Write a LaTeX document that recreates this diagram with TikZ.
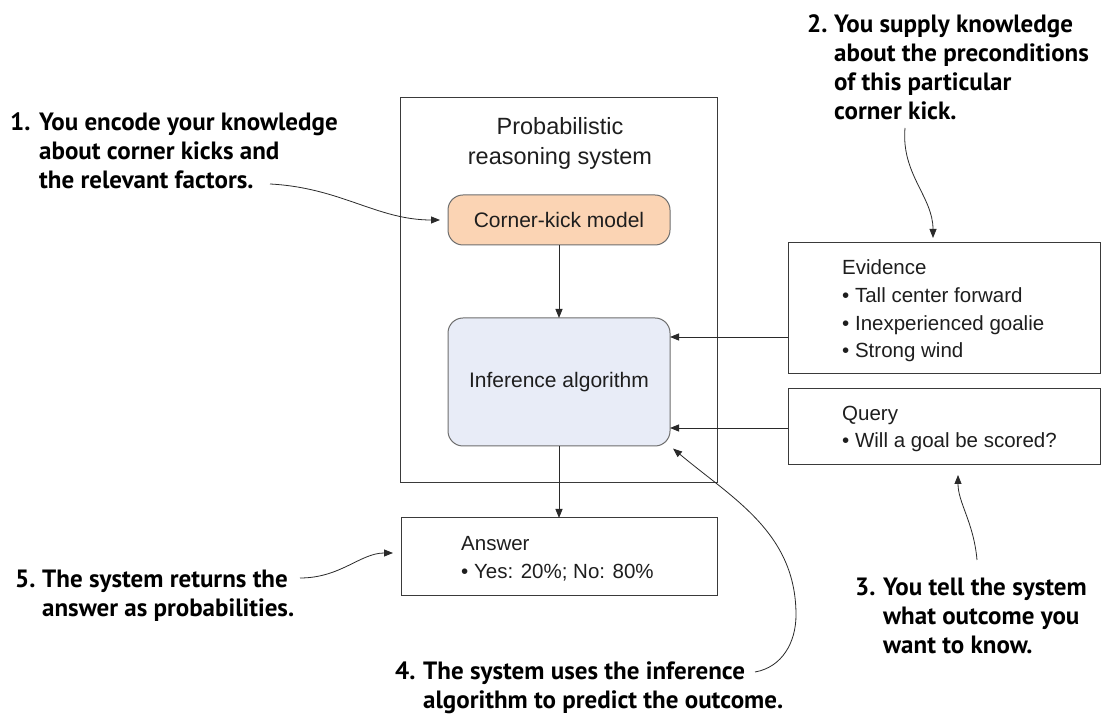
\documentclass[tikz,border=0pt]{standalone}
\usepackage{fontspec}
\setmainfont{Liberation Sans}
\newfontfamily\annfont{PT Sans}
\usetikzlibrary{arrows.meta}
\definecolor{boxline}{HTML}{3A3A3A}
\definecolor{roundline}{HTML}{6E6E6E}
\definecolor{peach}{HTML}{FBD4B4}
\definecolor{paleblue}{HTML}{E8ECF7}
\definecolor{txt}{HTML}{1E1E1E}
\definecolor{arrowcol}{HTML}{2A2A2A}
\begin{document}
\begin{tikzpicture}[x=1pt,y=1pt,
  box/.style={draw=boxline, line width=1pt, inner sep=0pt, outer sep=0pt},
  rbox/.style={draw=roundline, line width=1pt, rounded corners=15pt, inner sep=0pt, outer sep=0pt, text=txt, font=\fontsize{21}{25}\selectfont},
  boxtext/.style={inner sep=0pt, anchor=west, align=left, text=txt, font=\fontsize{20.5}{27.7}\selectfont},
  ann/.style={inner sep=0pt, anchor=base west, text=black, font=\annfont\bfseries\fontsize{25}{29}\selectfont},
  arr/.style={draw=arrowcol, line width=0.9pt, -{Triangle[length=9pt,width=7pt]}},
  carr/.style={draw=arrowcol, line width=0.8pt, -{Triangle[length=9pt,width=7pt]}}
]
\useasboundingbox (0,0) rectangle (1101,715);
\fill[white] (0,0) rectangle (1101,715);

% main system box
\node[box, minimum width=317pt, minimum height=385pt] (sys) at (558.5,424.5) {};
\node[inner sep=0pt, align=center, text=txt, font=\fontsize{23.5}{30}\selectfont] (title) at (560,572) {Probabilistic\\reasoning system};

\node[rbox, fill=peach, minimum width=222pt, minimum height=50pt] (ckm) at (559,495) {Corner-kick model};
\node[rbox, fill=paleblue, minimum width=222pt, minimum height=128pt] (inf) at (559,333) {Inference algorithm};

% answer box
\node[box, minimum width=316pt, minimum height=78pt] (ans) at (559,158) {};
\node[boxtext] (anstext) at (461,156.5) {Answer\\\textbullet\ Yes: 20\%; No: 80\%};

% evidence box
\node[box, minimum width=312pt, minimum height=131pt] (evi) at (944,406.5) {};
\node[boxtext] (evitext) at (842,404) {Evidence\\\textbullet\ Tall center forward\\\textbullet\ Inexperienced goalie\\\textbullet\ Strong wind};

% query box
\node[box, minimum width=312pt, minimum height=76pt] (qry) at (944,288) {};
\node[boxtext] (qrytext) at (842,286) {Query\\\textbullet\ Will a goal be scored?};

% straight arrows
\draw[arr] (ckm.south) -- (inf.north);
\draw[arr] (inf.south) -- (ans.north);
\draw[arr] (evi.west |- {(0,378)}) -- (inf.east |- {(0,378)});
\draw[arr] (qry.west |- {(0,287)}) -- (inf.east |- {(0,287)});

% annotations
\node[ann] (a1) at (10,584) {\begin{tabular}[t]{@{}l@{}l@{}}\makebox[29pt][l]{1.}&You encode your knowledge\\&about corner kicks and\\&the relevant factors.\end{tabular}};
\node[ann] (a2) at (807,682) {\begin{tabular}[t]{@{}l@{}l@{}}\makebox[27pt][l]{2.}&You supply knowledge\\&about the preconditions\\&of this particular\\&corner kick.\end{tabular}};
\node[ann] (a3) at (855,119) {\begin{tabular}[t]{@{}l@{}l@{}}\makebox[28pt][l]{3.}&You tell the system\\&what outcome you\\&want to know.\end{tabular}};
\node[ann] (a4) at (395,35) {\begin{tabular}[t]{@{}l@{}l@{}}\makebox[28pt][l]{4.}&The system uses the inference\\&algorithm to predict the outcome.\end{tabular}};
\node[ann] (a5) at (15,127) {\begin{tabular}[t]{@{}l@{}l@{}}\makebox[27pt][l]{5.}&The system returns the\\&answer as probabilities.\end{tabular}};

% curved annotation arrows
\coordinate (s1) at (270,531);
\coordinate (s2) at (905,587);
\coordinate (s3) at (977,155);
\coordinate (s4) at (755,43);
\coordinate (k4) at (796,100);
\coordinate (s5) at (300,137);

\draw[carr, shorten >=8pt] (s1) to[out=-3,in=180] (ckm.west);
\draw[carr, shorten >=5pt] (s2) to[out=-95,in=90] ([xshift=-11pt]evi.north);
\draw[carr, shorten >=10pt] (s3) to[out=95,in=-90] ([xshift=14pt]qry.south);
\draw[carr, shorten >=4pt] (s4) to[out=10,in=-90] (k4) to[out=90,in=-40] (inf.south east);
\draw[carr, shorten >=8pt] (s5) to[out=0,in=180] ([yshift=4pt]ans.west);
\end{tikzpicture}
\end{document}
